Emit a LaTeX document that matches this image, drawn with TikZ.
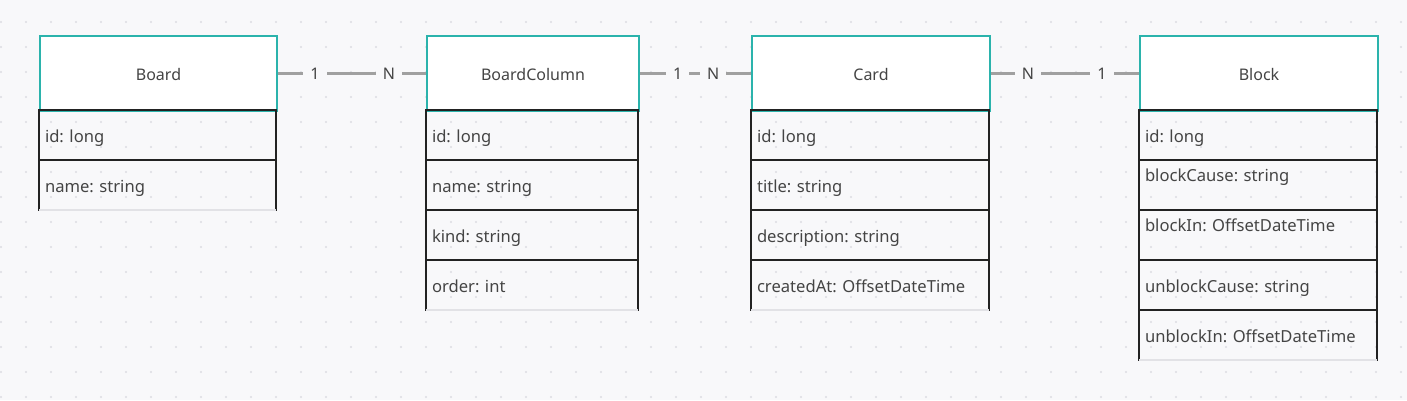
\documentclass[tikz,border=0pt]{standalone}
\usepackage{fontspec}
\setmainfont{Noto Sans}
\frenchspacing
\usetikzlibrary{positioning}
\definecolor{bgc}{HTML}{F8F8FA}
\definecolor{dotc}{HTML}{DCDCE2}
\definecolor{tealc}{HTML}{2BB3AC}
\definecolor{txtc}{HTML}{444444}
\definecolor{rowc}{HTML}{222222}
\definecolor{linkc}{HTML}{A0A0A0}
\definecolor{endc}{HTML}{E2E2E6}
\tikzset{
  entity/.style={draw=tealc, line width=2pt, fill=white, anchor=north west,
    minimum height=75pt, inner sep=0pt, text=txtc,
    font=\fontsize{16}{19}\selectfont, text height=14.5pt, text depth=0pt},
  field/.style={draw=rowc, line width=2pt, anchor=north west, minimum height=50pt,
    inner xsep=6pt, inner ysep=0pt, outer sep=0pt, align=left, text=txtc,
    font=\fontsize{16.6}{19}\selectfont, text height=18pt, text depth=3pt},
  topfield/.style={field, text depth=26pt},
  endline/.style={draw=endc, line width=2pt},
  link/.style={draw=linkc, line width=2.5pt},
  mult/.style={fill=bgc, text=txtc, inner xsep=7pt, inner ysep=1pt,
    font=\fontsize{16}{19}\selectfont}
}
\begin{document}
\begin{tikzpicture}[x=1pt,y=-1pt]
  \fill[bgc] (0,0) rectangle (1407,400);
  \useasboundingbox (0,0) rectangle (1407,400);

  % dotted grid
  \foreach \x in {1,26,...,1401}
  \foreach \y in {22,47,...,397}
  {
  \fill[dotc] (\x,\y) circle (1.1);
  }

  % Board
  \node[entity, minimum width=237pt] (board) at (39,35) {Board};
  \foreach \f [count=\i] in {id: long, name: string}
  \node[field, text width=225pt] (board-\i) at (39,{110+50*(\i-1)}) {\f};
  \draw[endline] (board-2.south west) -- (board-2.south east);

  % BoardColumn
  \node[entity, minimum width=212pt] (bcol) at (426,35) {BoardColumn};
  \foreach \f [count=\i] in {id: long, name: string, kind: string, order: int}
  \node[field, text width=200pt] (bcol-\i) at (426,{110+50*(\i-1)}) {\f};
  \draw[endline] (bcol-4.south west) -- (bcol-4.south east);

  % Card
  \node[entity, minimum width=238pt] (card) at (751,35) {Card};
  \foreach \f [count=\i] in {id: long, title: string, description: string, createdAt: OffsetDateTime}
  \node[field, text width=226pt] (card-\i) at (751,{110+50*(\i-1)}) {\f};
  \draw[endline] (card-4.south west) -- (card-4.south east);

  % Block
  \node[entity, minimum width=238pt] (block) at (1139,35) {Block};
  \foreach \f/\s [count=\i] in {id: long/field, blockCause: string/topfield,
    blockIn: OffsetDateTime/topfield, unblockCause: string/field, unblockIn: OffsetDateTime/field}
  \node[\s, text width=226pt] (block-\i) at (1139,{110+50*(\i-1)}) {\f};
  \draw[endline] (block-5.south west) -- (block-5.south east);

  % relations
  \draw[link] (board.east) -- node[mult, pos=.25] {1} node[mult, pos=.75] {N} (bcol.west);
  \draw[link] (bcol.east) -- node[mult, pos=.34] {1} node[mult, pos=.66] {N} (card.west);
  \draw[link] (card.east) -- node[mult, pos=.25] {N} node[mult, pos=.75] {1} (block.west);
\end{tikzpicture}
\end{document}
